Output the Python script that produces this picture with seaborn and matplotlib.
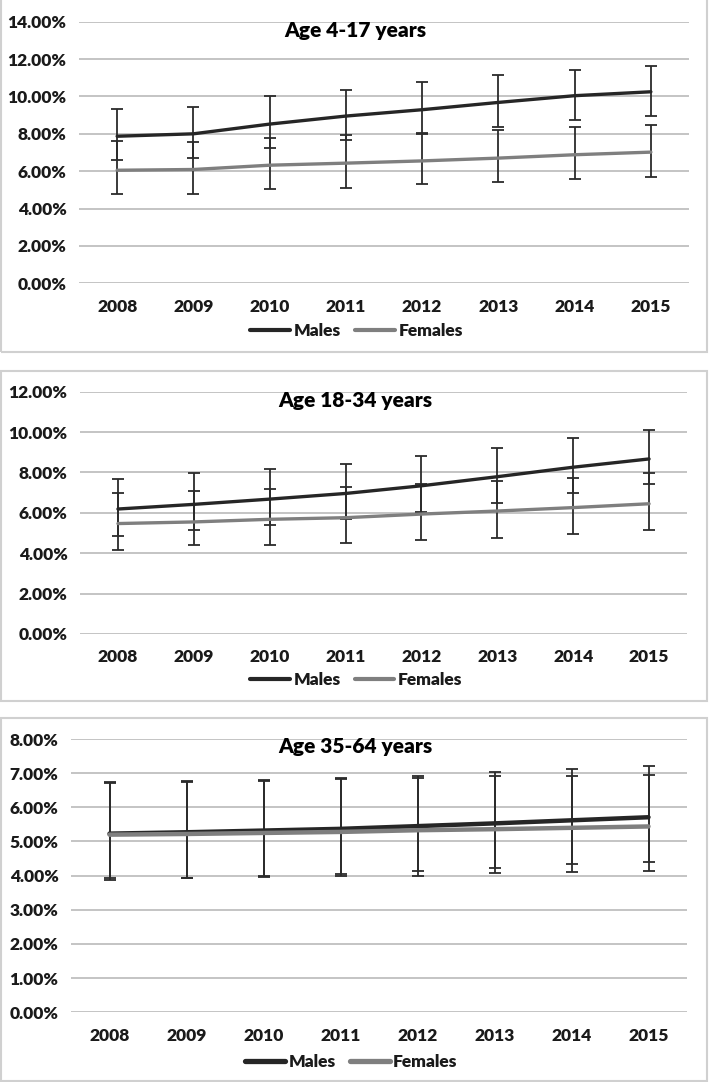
import numpy as np
import pandas as pd
import matplotlib
matplotlib.use("Agg")
import matplotlib.pyplot as plt
from matplotlib.patches import Rectangle
from matplotlib.ticker import FuncFormatter, MultipleLocator
import seaborn as sns

# dados (em %)
anos = [2008, 2009, 2010, 2011, 2012, 2013, 2014, 2015]

# 4-17 anos
m1 = [7.87, 8.00, 8.52, 8.95, 9.29, 9.68, 10.04, 10.25]
m1_sup = [9.34, 9.43, 10.00, 10.36, 10.77, 11.13, 11.43, 11.64]
m1_inf = [6.59, 6.70, 7.23, 7.68, 8.00, 8.39, 8.75, 8.95]
f1 = [6.05, 6.09, 6.32, 6.43, 6.55, 6.70, 6.88, 7.02]
f1_sup = [7.59, 7.57, 7.80, 7.91, 8.04, 8.18, 8.36, 8.48]
f1_inf = [4.79, 4.79, 5.04, 5.11, 5.30, 5.41, 5.57, 5.71]

# 18-34 anos
m2 = [6.19, 6.42, 6.68, 6.96, 7.34, 7.79, 8.26, 8.67]
m2_sup = [7.67, 7.97, 8.18, 8.40, 8.81, 9.22, 9.70, 10.09]
m2_inf = [4.87, 5.14, 5.42, 5.70, 6.04, 6.49, 6.98, 7.41]
f2 = [5.47, 5.55, 5.68, 5.76, 5.94, 6.09, 6.26, 6.45]
f2_sup = [6.98, 7.06, 7.18, 7.29, 7.42, 7.57, 7.72, 7.95]
f2_inf = [4.15, 4.41, 4.40, 4.51, 4.64, 4.76, 4.97, 5.14]

# 35-64 anos
m3 = [5.23, 5.27, 5.32, 5.37, 5.45, 5.53, 5.62, 5.71]
m3_sup = [6.74, 6.76, 6.80, 6.87, 6.93, 7.03, 7.12, 7.21]
m3_inf = [3.92, 3.92, 3.99, 4.06, 4.13, 4.21, 4.34, 4.41]
f3 = [5.20, 5.22, 5.25, 5.28, 5.33, 5.36, 5.40, 5.44]
f3_sup = [6.72, 6.75, 6.76, 6.84, 6.86, 6.91, 6.91, 6.94]
f3_inf = [3.86, 3.92, 3.97, 4.00, 3.99, 4.07, 4.10, 4.14]

titulos = ["Age 4-17 years", "Age 18-34 years", "Age 35-64 years"]
ymax = [14, 12, 8]
ypasso = [2, 2, 1]
espessura = [2.4, 2.4, 3.2]

sns.set_theme(style="white")
plt.rcParams['font.family'] = ['Lato', 'DejaVu Sans']
plt.rcParams['font.weight'] = 'heavy'

W, H = 710, 1082
fig = plt.figure(figsize=(W / 100, H / 100), dpi=100)

# posicoes em pixels: (esq, dir, topo do eixo, base do eixo, titulo y, legenda y, caixa topo, caixa base)
layout = [
    (79, 689, 21.7, 283.3, 30, 331, -2, 352),
    (80, 687, 391.7, 634, 400, 680, 371, 701),
    (71, 687, 739, 1012.3, 747, 1062, 718, 1081),
]

dados = [
    (m1, m1_inf, m1_sup, f1, f1_inf, f1_sup),
    (m2, m2_inf, m2_sup, f2, f2_inf, f2_sup),
    (m3, m3_inf, m3_sup, f3, f3_inf, f3_sup),
]

for i in range(3):
    esq, dir_, top, base, ty, ly, ctop, cbase = layout[i]
    m, m_inf, m_sup, f, f_inf, f_sup = dados[i]

    # caixa do painel
    fig.patches.append(Rectangle((1 / W, 1 - cbase / H), 706 / W, (cbase - ctop) / H,
                                 transform=fig.transFigure, fill=False,
                                 edgecolor='#d0d0d0', lw=1.5))

    ax = fig.add_axes([esq / W, 1 - base / H, (dir_ - esq) / W, (base - top) / H])

    df = pd.DataFrame({
        'ano': anos * 2,
        'valor': m + f,
        'sexo': ['Males'] * 8 + ['Females'] * 8,
    })

    for vals, inf, sup in [(m, m_inf, m_sup), (f, f_inf, f_sup)]:
        vals = np.array(vals)
        ax.errorbar(anos, vals, yerr=[vals - np.array(inf), np.array(sup) - vals],
                    fmt='none', ecolor='#2b2b2b', elinewidth=1.3, capsize=4,
                    capthick=1.3, zorder=2)

    sns.lineplot(data=df, x='ano', y='valor', hue='sexo',
                 palette={'Males': '#262626', 'Females': '#7f7f7f'},
                 linewidth=espessura[i], ax=ax, zorder=3)

    ax.set_xlim(2007.5, 2015.5)
    ax.set_ylim(0, ymax[i])
    ax.yaxis.set_major_locator(MultipleLocator(ypasso[i]))
    ax.yaxis.set_major_formatter(FuncFormatter(lambda v, p: f"{v:.2f}%"))
    ax.set_xticks(anos)
    ax.set_xticklabels([str(a) for a in anos])
    ax.grid(axis='y', color='#bfbfbf', lw=1.3)
    ax.set_axisbelow(True)
    for s in ax.spines.values():
        s.set_visible(False)
    ax.tick_params(axis='both', length=0, labelsize=12.5, colors='#1a1a1a')
    ax.tick_params(axis='x', pad=11)
    ax.tick_params(axis='y', pad=9)
    ax.set_xlabel('')
    ax.set_ylabel('')

    fig.text(355 / W, 1 - ty / H, titulos[i], ha='center', va='center',
             fontsize=15, fontweight='heavy', color='black')

    ly_ax = (base - ly) / (base - top)
    leg = ax.legend(loc='center', bbox_to_anchor=(0.455, ly_ax), ncol=2,
                    frameon=False, fontsize=12.5, handlelength=2.3,
                    handletextpad=0.2, columnspacing=0.8)
    for h in leg.get_lines():
        h.set_linewidth(espessura[i] + 0.6)
    for t in leg.get_texts():
        t.set_color('#1a1a1a')

fig.savefig("out.png", dpi=100)
